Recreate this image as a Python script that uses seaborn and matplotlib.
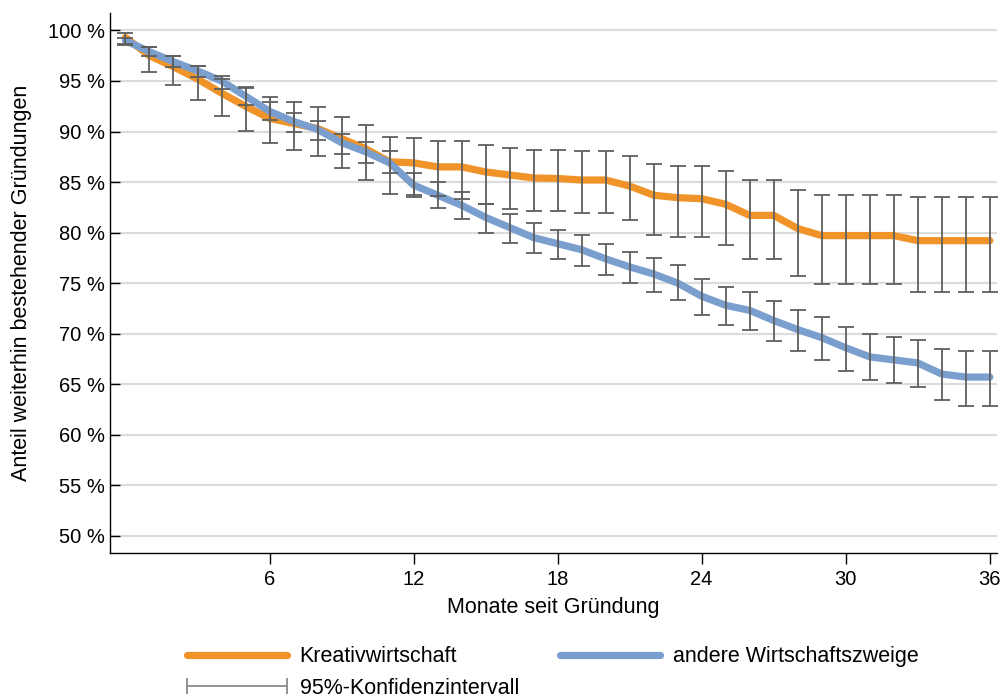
import numpy as np
import pandas as pd
import seaborn as sns
import matplotlib.pyplot as plt
from matplotlib.lines import Line2D
from matplotlib.legend_handler import HandlerLine2D

# ---------------- data ----------------
months = list(range(37))

kreativ = [99.3, 97.5, 96.4, 95.2, 93.8, 92.5, 91.3, 90.8, 90.3, 89.3,
           88.3, 87.0, 86.9, 86.5, 86.5, 86.0, 85.7, 85.4, 85.35, 85.2,
           85.2, 84.6, 83.7, 83.45, 83.35, 82.8, 81.7, 81.7, 80.4, 79.7,
           79.7, 79.7, 79.7, 79.2, 79.2, 79.2, 79.2]
kreativ_lo = [98.6, 95.9, 94.6, 93.1, 91.5, 90.1, 88.9, 88.2, 87.6, 86.4,
              85.2, 83.8, 83.7, 83.6, 83.3, 82.8, 82.3, 82.1, 82.1, 81.9,
              81.9, 81.2, 79.8, 79.6, 79.6, 78.75, 77.4, 77.4, 75.7, 74.9,
              74.9, 74.9, 74.9, 74.1, 74.1, 74.1, 74.1]
kreativ_hi = [99.7, 98.4, 97.5, 96.5, 95.2, 94.4, 93.4, 92.9, 92.4, 91.4,
              90.6, 89.5, 89.4, 89.1, 89.1, 88.7, 88.4, 88.2, 88.2, 88.1,
              88.1, 87.6, 86.8, 86.6, 86.6, 86.05, 85.2, 85.2, 84.2, 83.75,
              83.75, 83.75, 83.75, 83.5, 83.5, 83.5, 83.5]

andere = [99.0, 97.9, 96.9, 96.0, 95.0, 93.5, 92.0, 91.0, 90.2, 88.9,
          88.0, 86.9, 84.7, 83.7, 82.7, 81.5, 80.5, 79.5, 78.9, 78.3,
          77.4, 76.6, 75.9, 75.0, 73.7, 72.8, 72.3, 71.3, 70.4, 69.6,
          68.6, 67.7, 67.4, 67.1, 66.0, 65.7, 65.7]
andere_lo = [98.7, 97.5, 96.4, 95.4, 94.2, 92.6, 91.1, 90.0, 89.2, 87.8,
             86.9, 85.9, 83.5, 82.4, 81.3, 80.0, 79.0, 78.0, 77.4, 76.7,
             75.8, 75.0, 74.1, 73.3, 71.8, 70.9, 70.4, 69.3, 68.3, 67.4,
             66.3, 65.4, 65.1, 64.7, 63.4, 62.8, 62.8]
andere_hi = [99.3, 98.4, 97.5, 96.5, 95.5, 94.3, 92.9, 91.8, 91.05, 89.8,
             89.0, 88.1, 85.9, 85.0, 84.0, 82.8, 81.8, 80.9, 80.3, 79.8,
             78.9, 78.1, 77.5, 76.8, 75.4, 74.6, 74.1, 73.2, 72.3, 71.6,
             70.7, 70.0, 69.7, 69.4, 68.5, 68.3, 68.3]

groups = ["Kreativwirtschaft", "andere Wirtschaftszweige"]
y_ticks = list(range(50, 101, 5))
x_ticks = [6, 12, 18, 24, 30, 36]

colors = {"Kreativwirtschaft": "#F0942A", "andere Wirtschaftszweige": "#7A9ECD"}
ci_color = "#5f5f5f"

# ---------------- plot ----------------
sns.set_style("white")
plt.rcParams['font.family'] = ['Liberation Sans', 'DejaVu Sans']
plt.rcParams['text.color'] = 'black'
plt.rcParams['axes.labelcolor'] = 'black'
plt.rcParams['xtick.color'] = 'black'
plt.rcParams['ytick.color'] = 'black'
fs_tick = 14.5
fs = 15.5

df = pd.DataFrame({
    "monat": months * 2,
    "anteil": kreativ + andere,
    "gruppe": [groups[0]] * len(months) + [groups[1]] * len(months),
})

fig = plt.figure(figsize=(10.01, 6.99), dpi=100)
ax = fig.add_axes([0.110, 0.209, 0.886, 0.772])

sns.lineplot(data=df, x="monat", y="anteil", hue="gruppe", hue_order=groups,
             palette=colors, linewidth=5.2, legend=False, ax=ax, sort=False,
             solid_capstyle="round", solid_joinstyle="round", zorder=2)

for vals, lo, hi in [(kreativ, kreativ_lo, kreativ_hi), (andere, andere_lo, andere_hi)]:
    v = np.array(vals)
    err = [v - np.array(lo), np.array(hi) - v]
    ax.errorbar(months, v, yerr=err, fmt="none", ecolor=ci_color,
                elinewidth=1.3, capsize=5.5, capthick=1.3, zorder=3)

ax.set_xlim(-0.64, 36.3)
ax.set_ylim(48.3, 101.7)
ax.set_yticks(y_ticks)
ax.set_yticklabels([f"{t} %" for t in y_ticks])
ax.set_xticks(x_ticks)

ax.yaxis.grid(True, color="#dcdcdc", linewidth=1.6)
ax.xaxis.grid(False)
ax.set_axisbelow(True)

for s in ["top", "right"]:
    ax.spines[s].set_visible(False)
for s in ["left", "bottom"]:
    ax.spines[s].set_color("black")
    ax.spines[s].set_linewidth(1.0)

ax.tick_params(axis="y", left=True, direction="in", length=7, width=1,
               color="black", labelcolor="black", labelsize=fs_tick, pad=4)
ax.tick_params(axis="x", bottom=True, direction="out", length=8, width=1,
               color="black", labelcolor="black", labelsize=fs_tick, pad=4)

ax.set_xlabel("Monate seit Gründung", fontsize=fs, labelpad=6)
ax.set_ylabel("Anteil weiterhin bestehender Gründungen", fontsize=fs, labelpad=11)

# ---------------- legend ----------------
h_k = Line2D([], [], color=colors[groups[0]], lw=5.2, solid_capstyle="round")
h_a = Line2D([], [], color=colors[groups[1]], lw=5.2, solid_capstyle="round")
h_ci = Line2D([0], [0], color="#8a8a8a", lw=1.3, marker="|",
              markersize=11, markeredgewidth=1.3)

fig.legend([h_k, h_ci, h_a],
           ["Kreativwirtschaft", "95%-Konfidenzintervall", "andere Wirtschaftszweige"],
           loc="center", bbox_to_anchor=(0.552, 0.038), ncol=2, frameon=False,
           fontsize=fs, handlelength=4.65, handletextpad=0.6, columnspacing=1.9,
           labelspacing=0.5,
           handler_map={h_ci: HandlerLine2D(numpoints=2, marker_pad=0)})

fig.savefig("out.png", dpi=100)
